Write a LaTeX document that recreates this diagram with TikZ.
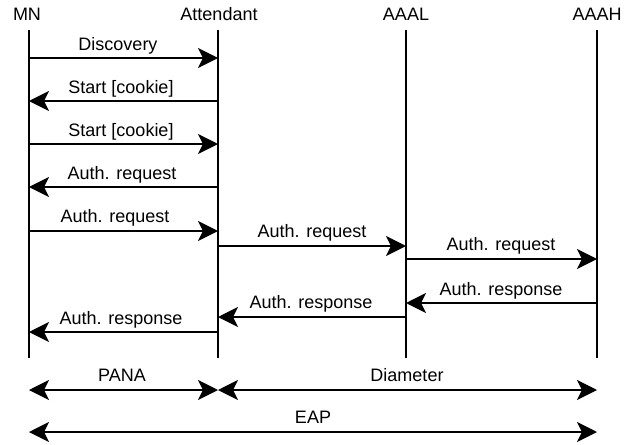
\documentclass[tikz,border=0pt]{standalone}
\usepackage{fontspec}
\setmainfont{Liberation Sans}
\usetikzlibrary{arrows.meta}
\begin{document}
\begin{tikzpicture}[x=1pt,y=-1pt,
  life/.style={line width=2pt},
  tipk/.tip={Stealth[length=20pt,width=20pt,inset=5pt]},
  msg/.style={line width=2pt,-tipk},
  dmsg/.style={line width=2pt,tipk-tipk},
  lbl/.style={anchor=base,font=\fontsize{18}{20}\selectfont,inner sep=0pt}]
\useasboundingbox (0,0) rectangle (631,444);
% headers
\node[lbl] (hMN) at (27,21) {MN};
\node[lbl] (hAtt) at (219,21) {Attendant};
\node[lbl] (hL) at (406,21) {AAAL};
\node[lbl] (hH) at (597,21) {AAAH};
% lifelines
\coordinate (mnT) at (29,30);  \coordinate (mnB) at (29,358);
\coordinate (atT) at (218,30); \coordinate (atB) at (218,358);
\coordinate (alT) at (406,30); \coordinate (alB) at (406,358);
\coordinate (ahT) at (597,30); \coordinate (ahB) at (597,358);
\draw[life] (mnT) -- (mnB);
\draw[life] (atT) -- (atB);
\draw[life] (alT) -- (alB);
\draw[life] (ahT) -- (ahB);
% messages
\coordinate (m1a) at (29,58);  \coordinate (m1b) at (218,58);
\draw[msg] (m1a) -- (m1b);
\node[lbl] (l1) at (118,50) {Discovery};
\coordinate (m2a) at (218,101); \coordinate (m2b) at (29,101);
\draw[msg] (m2a) -- (m2b);
\node[lbl] (l2) at (121,93) {Start [cookie]};
\coordinate (m3a) at (29,144);  \coordinate (m3b) at (218,144);
\draw[msg] (m3a) -- (m3b);
\node[lbl] (l3) at (121,136) {Start [cookie]};
\coordinate (m4a) at (218,187); \coordinate (m4b) at (29,187);
\draw[msg] (m4a) -- (m4b);
\node[lbl] (l4) at (122,179) {Auth. request};
\coordinate (m5a) at (29,231);  \coordinate (m5b) at (218,231);
\draw[msg] (m5a) -- (m5b);
\node[lbl] (l5) at (115,222) {Auth. request};
\coordinate (m6a) at (218,246); \coordinate (m6b) at (406,246);
\draw[msg] (m6a) -- (m6b);
\node[lbl] (l6) at (312,237) {Auth. request};
\coordinate (m7a) at (406,259); \coordinate (m7b) at (597,259);
\draw[msg] (m7a) -- (m7b);
\node[lbl] (l7) at (501,250) {Auth. request};
\coordinate (m8a) at (597,303); \coordinate (m8b) at (406,303);
\draw[msg] (m8a) -- (m8b);
\node[lbl] (l8) at (501,295) {Auth. response};
\coordinate (m9a) at (406,317); \coordinate (m9b) at (218,317);
\draw[msg] (m9a) -- (m9b);
\node[lbl] (l9) at (311,308) {Auth. response};
\coordinate (m10a) at (218,332); \coordinate (m10b) at (29,332);
\draw[msg] (m10a) -- (m10b);
\node[lbl] (l10) at (121,324) {Auth. response};
% protocol spans
\coordinate (pA) at (29,390); \coordinate (pB) at (218,390); \coordinate (pC) at (597,390);
\draw[dmsg] (pA) -- (pB);
\draw[dmsg] (pB) -- (pC);
\node[lbl] (lp) at (122,381) {PANA};
\node[lbl] (ld) at (407,381) {Diameter};
\coordinate (eA) at (29,432); \coordinate (eB) at (597,432);
\draw[dmsg] (eA) -- (eB);
\node[lbl] (le) at (313,423) {EAP};
\end{tikzpicture}
\end{document}
